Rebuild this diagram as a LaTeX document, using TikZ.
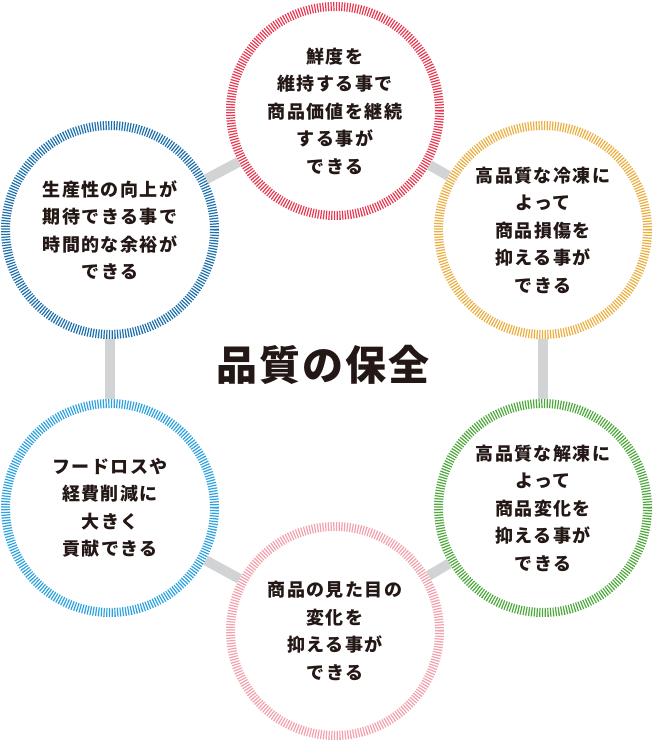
\documentclass[tikz,border=0pt]{standalone}
\usepackage{fontspec}
\setmainfont{Noto Sans CJK JP}[LetterSpace=8]
\newfontfamily\titlefont{Noto Sans CJK JP}[LetterSpace=5]
\usepackage{xcolor}
\usepackage{tikz}
\usetikzlibrary{positioning}
\definecolor{ink}{HTML}{231815}
\definecolor{linkgray}{HTML}{D2D3D4}
\definecolor{freshred}{HTML}{E8384F}
\definecolor{frozengold}{HTML}{EBAE3E}
\definecolor{thawgreen}{HTML}{4DA83B}
\definecolor{lookpink}{HTML}{F3A0AD}
\definecolor{lossblue}{HTML}{2BA2DE}
\definecolor{timenavy}{HTML}{1C6FAA}
\tikzset{
  ring/.style  = {circle, minimum size=209pt, inner sep=0pt, draw=#1, fill=white,
                  line width=9pt, dash pattern=on 1.2pt off 1.5pt, align=center,
                  text=ink, font=\bfseries\fontsize{18}{27.5}\selectfont},
  link/.style  = {draw=linkgray, line width=10pt},
  hub/.style   = {text=ink, font=\titlefont\bfseries\fontsize{41}{41}\selectfont},
}
\begin{document}
\begin{tikzpicture}[x=1pt, y=-1pt]
  \useasboundingbox (0,0) rectangle (654,742);
  \node[ring=freshred]   (fresh)  at (335,111) {鮮度を\\維持する事で\\商品価値を継続\\する事が\\できる};
  \node[ring=frozengold] (frozen) at (543,230) {高品質な冷凍に\\よって\\商品損傷を\\抑える事が\\できる};
  \node[ring=thawgreen]  (thaw)   at (543,508) {高品質な解凍に\\よって\\商品変化を\\抑える事が\\できる};
  \node[ring=lookpink]   (look)   at (335,631) {商品の見た目の\\変化を\\抑える事が\\できる};
  \node[ring=lossblue]   (loss)   at (110,508) {フードロスや\\経費削減に\\大きく\\貢献できる};
  \node[ring=timenavy]   (time)   at (110,230) {生産性の向上が\\期待できる事で\\時間的な余裕が\\できる};
  \node[hub] (quality) at (323,365) {品質の保全};
  \draw[link] (fresh) -- (frozen);
  \draw[link] (frozen) -- (thaw);
  \draw[link] (thaw) -- (look);
  \draw[link] (look) -- (loss);
  \draw[link] (loss) -- (time);
  \draw[link] (time) -- (fresh);
\end{tikzpicture}
\end{document}
